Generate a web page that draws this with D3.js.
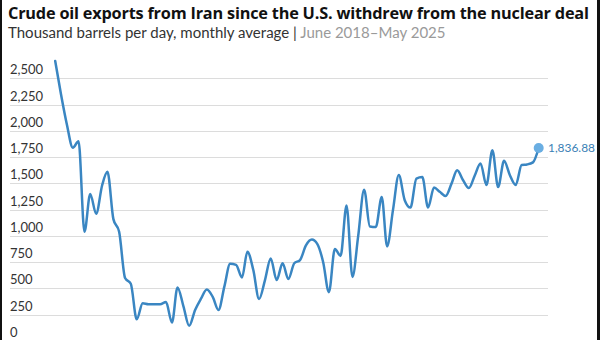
<!DOCTYPE html>
<html><head><meta charset="utf-8">
<script src="https://cdn.jsdelivr.net/npm/d3@7"></script>
<style>
html,body{margin:0;padding:0;background:#fff;}
svg{display:block;}
</style></head>
<body>
<svg id="chart" width="600" height="340"></svg>
<script>
const title = "Crude oil exports from Iran since the U.S. withdrew from the nuclear deal";
const subtitleMain = "Thousand barrels per day, monthly average | ";
const subtitleRange = "June 2018–May 2025";
const yTicks = [0, 250, 500, 750, 1000, 1250, 1500, 1750, 2000, 2250, 2500];
// Monthly values, June 2018 .. May 2025 (84 months)
const months = d3.range(84).map(i => new Date(2018, 5 + i, 1));
const exportsKbd = [
  2665, 2350, 2060, 1840, 1900, 1040, 1400, 1210, 1480, 1610,
  1160, 1040, 600, 545, 206, 360, 350, 350, 350, 370,
  175, 510, 330, 145, 295, 400, 490, 420, 295, 520,
  735, 725, 605, 850, 675, 400, 580, 785, 580, 740,
  590, 740, 770, 910, 965, 925, 750, 465, 875, 810,
  1290, 610, 1000, 1440, 1090, 1085, 1370, 900, 1250, 1580,
  1340, 1270, 1545, 1560, 1270, 1460, 1420, 1380, 1500, 1625,
  1530, 1455, 1575, 1690, 1485, 1815, 1465, 1715, 1580, 1485,
  1675, 1680, 1700, 1836.88
];
const lastLabel = "1,836.88";

const svg = d3.select("#chart");
const W = 600, H = 340;
const FONT = "Lato, 'Open Sans', sans-serif";
const TFONT = "'Open Sans', Lato, sans-serif";

// border edges
svg.append("rect").attr("x",0).attr("y",0).attr("width",2).attr("height",H).attr("fill","#111");
svg.append("rect").attr("x",597).attr("y",0).attr("width",3).attr("height",H).attr("fill","#111");

function fitText(sel, target) {
  const w = sel.node().getComputedTextLength();
  const fs = parseFloat(sel.attr("font-size"));
  sel.attr("font-size", (fs * target / w).toFixed(2));
}

const t = svg.append("text").attr("x", 8).attr("y", 18.5)
  .attr("font-family", TFONT).attr("font-weight", 700)
  .attr("font-size", 17).attr("fill", "#111").attr("letter-spacing", -0.2).text(title);
fitText(t, 582);

const st = svg.append("text").attr("x", 8).attr("y", 37.5)
  .attr("font-family", FONT).attr("font-size", 14);
st.append("tspan").attr("fill", "#333").text(subtitleMain);
st.append("tspan").attr("fill", "#9a9a9a").text(subtitleRange);
fitText(st, 438);

const x = d3.scaleTime().domain(d3.extent(months)).range([55.2, 538.7]);
const y = d3.scaleLinear().domain([0, 2500]).range([341, 78.3]);

// gridlines + labels
const grid = svg.append("g");
grid.selectAll("line").data(yTicks).join("line")
  .attr("x1", 10).attr("x2", 548)
  .attr("y1", d => Math.round(y(d)) + 0.5).attr("y2", d => Math.round(y(d)) + 0.5)
  .attr("stroke", "#dcdcdc").attr("stroke-width", 1);
grid.selectAll("text").data(yTicks).join("text")
  .attr("x", 10).attr("y", d => y(d) - 4)
  .attr("font-family", FONT).attr("font-size", 13)
  .attr("fill", "#333").text(d => d3.format(",")(d));

const line = d3.line()
  .x((d, i) => x(months[i]))
  .y(d => y(d))
  .curve(d3.curveMonotoneX);

svg.append("path").datum(exportsKbd)
  .attr("d", line).attr("fill", "none")
  .attr("stroke", "#3a86c2").attr("stroke-width", 2.5)
  .attr("stroke-linejoin", "round").attr("stroke-linecap", "round");

const li = exportsKbd.length - 1;
svg.append("circle").attr("cx", x(months[li])).attr("cy", y(exportsKbd[li]))
  .attr("r", 5).attr("fill", "#6aaee2");
const lab = svg.append("text").attr("x", 548).attr("y", y(exportsKbd[li]) + 4.5)
  .attr("font-family", FONT).attr("font-size", 12.5)
  .attr("fill", "#3a7fb5").text(lastLabel);
fitText(lab, 47);
</script>
</body></html>
